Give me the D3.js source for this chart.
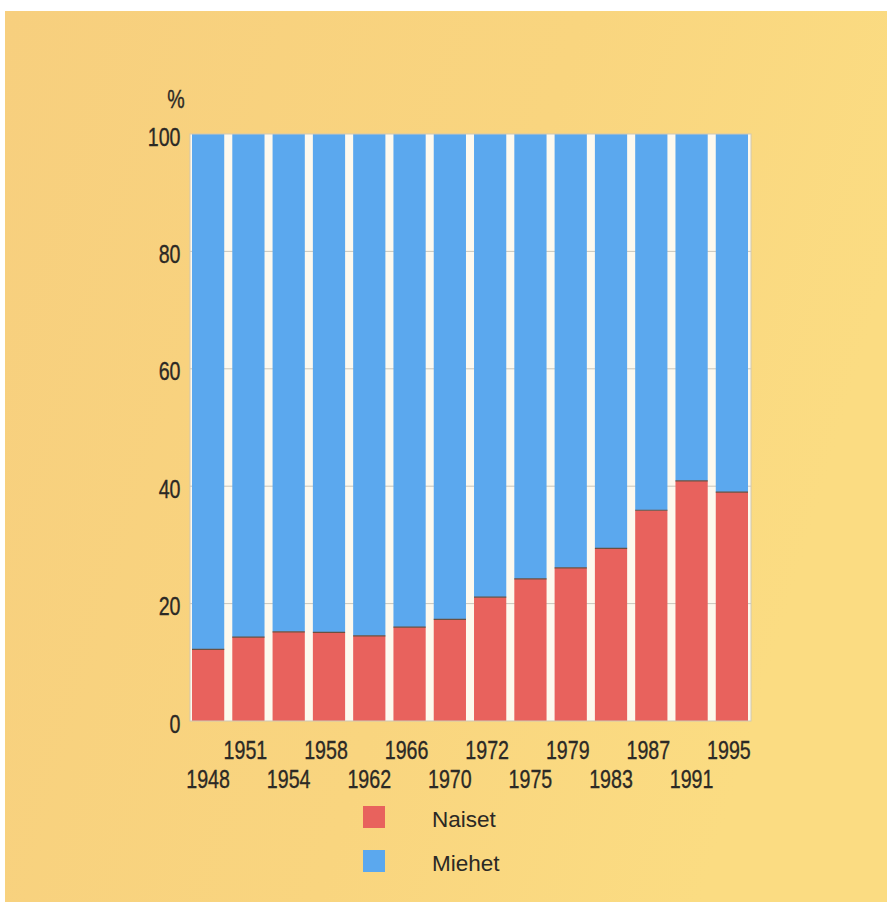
<!DOCTYPE html>
<html>
<head>
<meta charset="utf-8">
<script src="https://cdn.jsdelivr.net/npm/d3@7"></script>
<style>
  html, body { margin: 0; padding: 0; background: #ffffff; }
  svg { display: block; }
</style>
</head>
<body>
<svg id="chart" width="887" height="902"></svg>
<script>
const years = ["1948","1951","1954","1958","1962","1966","1970","1972","1975","1979","1983","1987","1991","1995"];
const naiset = [12.2, 14.3, 15.2, 15.1, 14.5, 16.0, 17.3, 21.1, 24.2, 26.1, 29.4, 35.9, 40.9, 39.0];
const miehet = naiset.map(v => 100 - v);
const yTicks = [0, 20, 40, 60, 80, 100];
const seriesNames = ["Naiset", "Miehet"];
const colors = ["#e8625d", "#5ba8ee"];

(function () {
const svg = d3.select("#chart");
const defs = svg.append("defs");
const grad = defs.append("linearGradient").attr("id", "bg")
  .attr("x1", "0").attr("y1", "0").attr("x2", "1").attr("y2", "0.3");
grad.append("stop").attr("offset", "0").attr("stop-color", "#f7cf7e");
grad.append("stop").attr("offset", "0.6").attr("stop-color", "#f9d57f");
grad.append("stop").attr("offset", "1").attr("stop-color", "#fbdc82");

svg.append("rect").attr("x", 5).attr("y", 11).attr("width", 882).attr("height", 891).attr("fill", "url(#bg)");

const pL = 190, pR = 751, pT = 134, pB = 721;
const x = d3.scaleBand().domain(years).range([192, 748]).paddingInner(0.2).paddingOuter(0);
const y = d3.scaleLinear().domain([0, 100]).range([pB, pT]);

// plot background
svg.append("rect").attr("x", pL).attr("y", pT).attr("width", pR - pL).attr("height", pB - pT)
  .attr("fill", "#fdf9ee");

// gridlines
svg.append("g").selectAll("line").data(yTicks.filter(t => t > 0 && t < 100)).join("line")
  .attr("x1", pL).attr("x2", pR)
  .attr("y1", d => y(d)).attr("y2", d => y(d))
  .attr("stroke", "#c9c6bc").attr("stroke-width", 1);

// stacked data
const data = years.map((yr, i) => ({ year: yr, Naiset: naiset[i], Miehet: miehet[i] }));
const stack = d3.stack().keys(seriesNames)(data);

svg.append("g").selectAll("g").data(stack).join("g")
  .attr("fill", (d, i) => colors[i])
  .selectAll("rect").data(d => d).join("rect")
  .attr("x", d => x(d.data.year))
  .attr("width", x.bandwidth())
  .attr("y", d => y(d[1]))
  .attr("height", d => y(d[0]) - y(d[1]));

// dark line between segments
svg.append("g").selectAll("line").data(data).join("line")
  .attr("x1", d => x(d.year)).attr("x2", d => x(d.year) + x.bandwidth())
  .attr("y1", d => y(d.Naiset)).attr("y2", d => y(d.Naiset))
  .attr("stroke", "#6b5040").attr("stroke-width", 1.2);

// plot frame
svg.append("rect").attr("x", pL).attr("y", pT).attr("width", pR - pL).attr("height", pB - pT)
  .attr("fill", "none").attr("stroke", "#cfc8b4").attr("stroke-width", 1);

const font = "'Liberation Sans', Arial, sans-serif";
const sx = 0.77;
const fs = 25.5;
const ink = "#2b2925";

// y axis
const yAxis = d3.axisLeft(y).tickValues(yTicks).tickSize(0).tickPadding(0);
const gy = svg.append("g").attr("transform", `translate(${pL},0)`).call(yAxis);
gy.select(".domain").remove();
gy.selectAll("text").attr("font-family", font).attr("font-size", fs).attr("fill", ink)
  .attr("stroke", ink).attr("stroke-width", 0.35)
  .attr("dy", null).attr("y", 11).attr("x", -9.5 / sx)
  .attr("transform", `scale(${sx},1)`);

svg.append("text").attr("transform", `translate(176,108) scale(${sx},1)`).attr("text-anchor", "middle")
  .attr("font-family", font).attr("font-size", fs).attr("fill", ink)
  .attr("stroke", ink).attr("stroke-width", 0.35).text("%");

// x axis labels, staggered
const xAxis = d3.axisBottom(x).tickSize(0).tickPadding(0);
const gx = svg.append("g").attr("transform", `translate(0,${pB})`).call(xAxis);
gx.select(".domain").remove();
gx.selectAll("text")
  .attr("font-family", font).attr("font-size", fs).attr("fill", ink)
  .attr("stroke", ink).attr("stroke-width", 0.35)
  .attr("dy", null)
  .attr("y", (d, i) => i % 2 === 1 ? 38 : 67)
  .attr("x", (d, i) => i % 2 === 1 ? -3 / sx : 0)
  .attr("transform", `scale(${sx},1)`);

// legend
const lg = svg.append("g");
seriesNames.forEach((name, i) => {
  const yy = 806 + i * 44;
  lg.append("rect").attr("x", 363).attr("y", yy).attr("width", 22).attr("height", 22)
    .attr("fill", colors[i]);
  lg.append("text").attr("x", 432).attr("y", yy + 21)
    .attr("font-family", font).attr("font-size", 22.5)
    .attr("fill", ink).text(name);
});
})();
</script>
</body>
</html>
